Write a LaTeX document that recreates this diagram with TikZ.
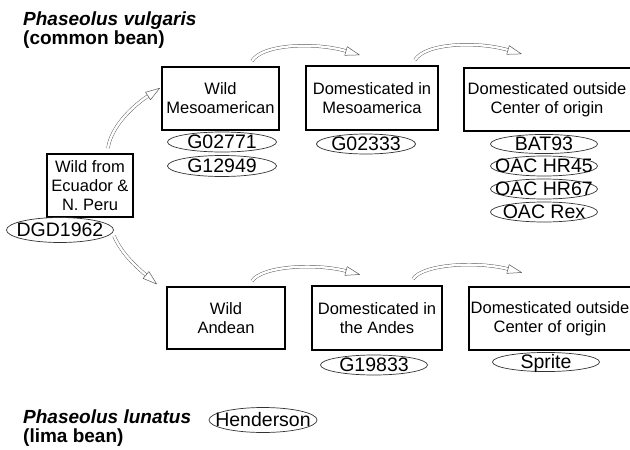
\documentclass[tikz,border=0pt]{standalone}
\usepackage{fontspec}
\setmainfont{Liberation Sans}
\usetikzlibrary{calc,shapes.geometric}
\tikzset{
  boxtxt/.style={align=center, inner sep=0pt, font=\fontsize{16.5}{19}\selectfont},
  box/.style={draw=black, line width=1.2pt, fill=white, boxtxt},
  ell/.style={ellipse, draw=black!80, line width=0.7pt, inner sep=0pt,
    text height=13.5pt, text depth=0pt, font=\fontsize{19.5}{22}\selectfont},
  ttl/.style={font=\fontsize{19}{17}\selectfont\bfseries, anchor=north west, inner sep=0pt, align=left},
  band/.style={draw=black!65, line width=0.45pt, double=white, double distance=2.4pt},
  bhead/.style={draw=black!65, line width=0.5pt, fill=white, line join=round}
}
\newcommand\bandarrow[4]{%
  \draw[band] (#1) .. controls (#2) and (#3) .. (#4);
  \draw[bhead] ($(#4)!4.5pt!90:(#3)$) -- ($(#4)!14pt!180:(#3)$) -- ($(#4)!4.5pt!-90:(#3)$) -- cycle;
}
\newcommand\elltxt[1]{\makebox[0pt]{#1}}
\begin{document}
\begin{tikzpicture}[x=1pt,y=-1pt]
\useasboundingbox (0,0) rectangle (630,450);

% titles
\node[ttl] (t1) at (23,12) {\itshape Phaseolus vulgaris\\(common bean)};
\node[ttl, font=\fontsize{19}{18.5}\selectfont\bfseries] (t3) at (23,410) {\itshape Phaseolus lunatus\\(lima bean)};

% boxes
\node[box, minimum width=117pt, minimum height=63pt] (wm) at (220.5,98.5) {Wild\\Mesoamerican};
\node[box, minimum width=132pt, minimum height=64pt] (dm) at (372,98) {Domesticated in\\Mesoamerica};
\node[box, minimum width=176pt, minimum height=63pt] (om) at (552,99.5) {};
\node[boxtxt] (omt) at (547,99.5) {Domesticated outside\\Center of origin};
\node[box, minimum width=86pt, minimum height=63pt] (we) at (90,185.5) {Wild from\\Ecuador \&\\N. Peru};
\node[box, minimum width=118pt, minimum height=62pt] (wa) at (226,318) {Wild\\Andean};
\node[box, minimum width=130pt, minimum height=64pt] (da) at (377,318) {Domesticated in\\the Andes};
\node[box, minimum width=176pt, minimum height=63pt] (oa) at (557,318.5) {};
\node[boxtxt] (oat) at (550,318.5) {Domesticated outside\\Center of origin};

% ellipses
\node[ell, minimum width=109pt, minimum height=20pt] (g1) at (222,142) {\elltxt{G02771}};
\node[ell, minimum width=109pt, minimum height=21pt] (g2) at (222,166) {\elltxt{G12949}};
\node[ell, minimum width=99pt, minimum height=20pt] (g3) at (366,144) {\elltxt{G02333}};
\node[ell, minimum width=107pt, minimum height=19pt] (b1) at (544,144) {\elltxt{BAT93}};
\node[ell, minimum width=107pt, minimum height=20pt] (b2) at (544,166) {\elltxt{OAC HR45}};
\node[ell, minimum width=107pt, minimum height=20pt] (b3) at (544,189) {\elltxt{OAC HR67}};
\node[ell, minimum width=107pt, minimum height=20pt] (b4) at (544,212) {\elltxt{OAC Rex}};
\node[ell, minimum width=107pt, minimum height=25pt] (dgd) at (60,230) {\elltxt{DGD1962}};
\node[ell, minimum width=107pt, minimum height=20pt] (g4) at (374,365) {\elltxt{G19833}};
\node[ell, minimum width=107pt, minimum height=19pt] (sp) at (546,362) {\elltxt{Sprite}};
\node[ell, minimum width=108pt, minimum height=25pt] (hd) at (263,420) {\elltxt{Henderson}};

% arrow end points
\coordinate (a1s) at (252,61);  \coordinate (a1a) at (262,44);  \coordinate (a1b) at (315,42);  \coordinate (a1e) at (346,51);
\coordinate (a2s) at (415,60);  \coordinate (a2a) at (425,43);  \coordinate (a2b) at (477,41);  \coordinate (a2e) at (508,50);
\coordinate (a3s) at (252,281); \coordinate (a3a) at (262,266); \coordinate (a3b) at (315,263); \coordinate (a3e) at (346,271);
\coordinate (a4s) at (413,279); \coordinate (a4a) at (423,264); \coordinate (a4b) at (477,261); \coordinate (a4e) at (508,269);
\coordinate (a5s) at (108,148); \coordinate (a5a) at (111,128); \coordinate (a5b) at (130,108); \coordinate (a5e) at (148,96);
\coordinate (a6s) at (114,236); \coordinate (a6a) at (121,252); \coordinate (a6b) at (133,264); \coordinate (a6e) at (146,275);

\bandarrow{a1s}{a1a}{a1b}{a1e}
\bandarrow{a2s}{a2a}{a2b}{a2e}
\bandarrow{a3s}{a3a}{a3b}{a3e}
\bandarrow{a4s}{a4a}{a4b}{a4e}
\bandarrow{a5s}{a5a}{a5b}{a5e}
\bandarrow{a6s}{a6a}{a6b}{a6e}
\end{tikzpicture}
\end{document}
